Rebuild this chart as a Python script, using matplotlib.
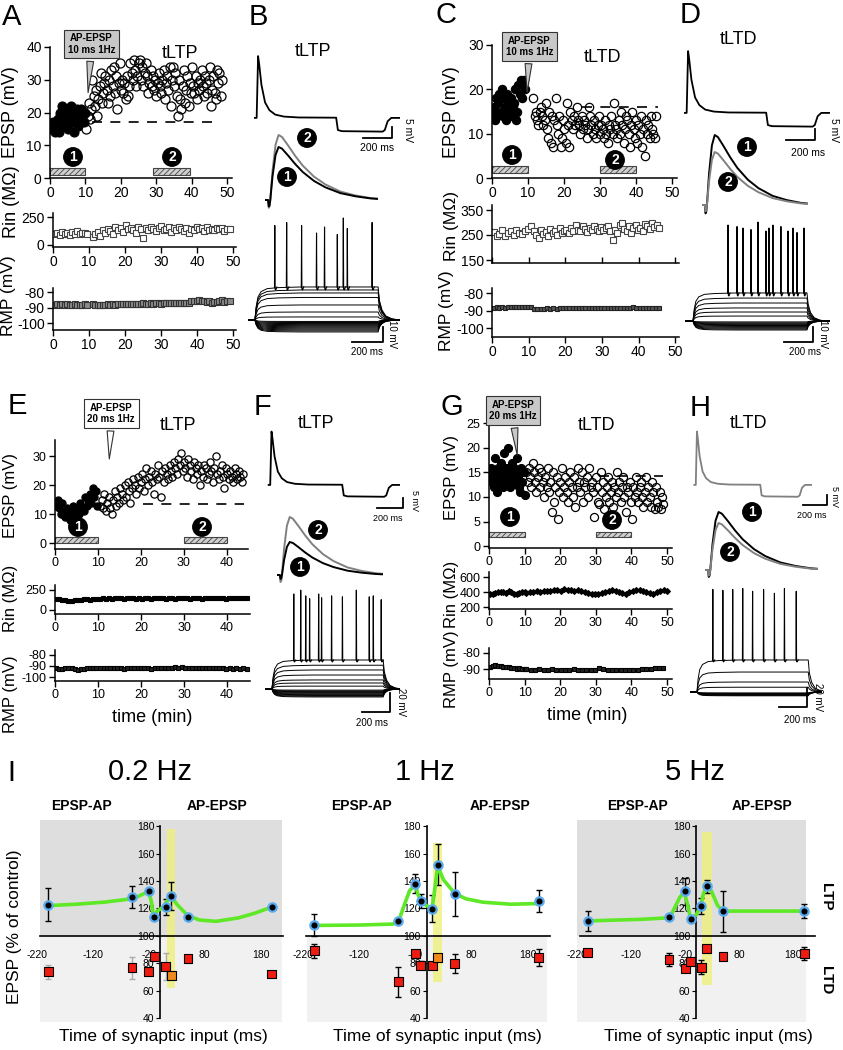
import numpy as np
import matplotlib.pyplot as plt
from matplotlib.patches import Rectangle

plt.rcParams['font.family'] = ['Liberation Sans', 'DejaVu Sans']
plt.rcParams['hatch.linewidth'] = 0.6
plt.rcParams['axes.unicode_minus'] = False

# ---------------- Data ----------------
# A (tLTP, AP-EPSP 10 ms 1 Hz)
a_pre = [16, 15, 17, 14, 16, 15, 18, 14, 20, 22, 17, 19, 21, 16, 18, 15, 20, 22, 17, 19,
         14, 18, 21, 16, 17, 19, 21, 18, 17, 20]
a_post = [15, 19, 23, 18, 21, 30, 25, 22, 27, 19, 24, 28, 32, 23, 26,
          29, 31, 27, 23, 30, 25, 33, 28, 34, 26, 31, 21, 29, 35, 27,
          30, 26, 29, 24, 31, 25, 28, 35, 32, 30, 36, 33, 28, 31, 35,
          36, 30, 34, 28, 32, 35, 31, 26, 29, 33, 28, 31, 27, 30, 25,
          29, 32, 28, 26, 30, 33, 24, 29, 31, 27, 34, 22, 30, 34, 28,
          32, 25, 19, 30, 24, 21, 28, 33, 23, 27, 31, 22, 29, 26, 34,
          28, 26, 31, 24, 29, 27, 30, 33, 28, 25, 31, 29, 26, 30, 34,
          22, 27, 31, 26, 24, 33, 29, 32, 25, 30]
a_rin_pre = [95, 110, 85, 120, 100, 105, 90, 115, 100, 125, 95, 110, 105, 100]
a_rin_post = [70, 95, 120, 80, 130, 110, 145, 125, 100, 160, 135, 150, 120, 175, 140, 155,
              130, 110, 160, 145, 60, 150, 135, 165, 140, 125, 155, 170, 130, 145, 160, 120,
              150, 135, 165, 140, 125, 155, 110, 145, 130, 160, 140, 150, 125, 165, 135, 145,
              130, 155, 140, 150, 125, 145, 140]
a_rmp_pre = [-88.5, -88, -88.5, -88, -88.3, -88, -88.6, -88.2, -88, -88.5, -88.1, -88.4, -88, -88.3]
a_rmp_post = [-88, -88.3, -88.2, -88.5, -88.1, -88.4, -88, -88.2, -87.9, -88.1, -88, -87.8, -88,
              -87.7, -87.9, -87.6, -87.8, -87.5, -87.7, -87.6, -87.4, -87.7, -87.5, -87.3, -87.6,
              -87.4, -87.2, -87.5, -87.3, -87.1, -87.4, -87.2, -87, -87.3, -87.1, -86.9, -87.2,
              -87, -86.8, -86, -85.5, -85.8, -85.3, -86, -85.6, -86.5, -85.9, -86.8, -86.2,
              -86.6, -86, -85.4, -86.3, -85.8, -86.1]

# C (tLTD, AP-EPSP 10 ms 1 Hz)
c_pre = [15, 16, 13, 18, 14, 17, 19, 15, 20, 14, 18, 16, 13, 19, 17, 15, 18, 14, 16, 17,
         20, 13, 15, 21, 19, 22, 18, 21, 22, 20]
c_post = [18, 14, 15, 13, 12, 15, 16, 14, 12, 13, 17, 11, 9, 15, 8, 14, 7, 13, 18, 12,
          10, 14, 7, 9, 13, 11, 8, 17, 12, 7, 15, 13, 11, 14, 12, 16, 13, 12, 10, 14,
          11, 13, 12, 9, 11, 16, 14, 12, 10, 13, 11, 9, 12, 14, 10, 12, 11, 9, 13, 10,
          8, 12, 11, 14, 10, 17, 12, 11, 9, 13, 10, 15, 12, 8, 11, 14, 13, 10, 7, 12,
          15, 11, 9, 13, 8, 12, 10, 14, 7, 11, 5, 13, 10, 12, 9, 14, 11, 10, 9, 14]
c_rin_pre = [262, 248, 255, 270, 245, 258, 265, 250, 272, 260, 255, 268, 275, 285]
c_rin_post = [265, 250, 240, 270, 255, 262, 248, 275, 260, 268, 252, 278, 258, 265, 270, 260,
              280, 268, 290, 272, 265, 285, 275, 262, 280, 270, 288, 275, 268, 282, 272, 278,
              285, 265, 230, 270, 258, 290, 300, 275, 268, 285, 260, 278, 290, 272, 280, 268,
              295, 285, 275, 300, 282, 290, 278]
c_rmp_pre = [-88.4, -88.2, -88.5, -88.1, -88.3, -88, -88.2, -87.9, -88.1, -87.8, -88, -87.7, -87.9, -88]
c_rmp_post = [-88.9, -89.1, -88.8, -89, -88.7, -88.9, -88.6, -88.8, -88.5, -88.7, -88.4, -88.6,
              -88.5, -88.3, -88.6, -88.4, -88.7, -88.5, -88.3, -88.6, -88.4, -88.7, -88.5,
              -88.6, -88.4, -88.7, -88.5, -88.3, -88.6, -88.4, -88.5, -88.2, -88.6, -88.4,
              -88.5, -88.3, -88.6, -88.4, -88.5, -88.3]

# E (tLTP, AP-EPSP 20 ms 1 Hz)
e_pre = [13, 15, 12, 10, 14, 11, 9, 12, 10, 8, 11, 13, 9, 11, 12, 10, 14, 12, 11, 16,
         13, 15, 17, 14, 19, 16, 18, 13]
e_post = [13, 15, 12, 17, 11, 14, 16, 12, 10, 15, 18, 13, 16, 14, 19, 17, 15, 20, 16, 21,
          18, 14, 19, 22, 20, 17, 23, 19, 21, 24, 18, 22, 26, 20, 23, 25, 21, 17, 24, 22,
          27, 23, 16, 25, 21, 26, 24, 22, 27, 25, 23, 28, 26, 24, 29, 27, 31, 25, 28, 26,
          23, 29, 27, 25, 22, 28, 26, 24, 27, 20, 25, 23, 27, 26, 22, 24, 28, 25, 21, 26,
          30, 24, 22, 25, 27, 23, 19, 26, 24, 22, 25, 23, 21, 26, 24, 22, 25, 23, 21, 24]
e_rin_pre = [135, 132, 128, 120, 110, 118, 125, 130, 128, 132, 135, 130, 133, 138]
e_rin_post = [142, 145, 140, 148, 143, 146, 150, 144, 141, 147, 145, 149, 143, 146, 140, 148,
              145, 142, 147, 144, 150, 146, 141, 145, 148, 143, 146, 149, 144, 147, 142, 146,
              150, 145, 143, 148, 146, 152, 144, 147, 145, 149, 143, 146, 150, 147, 144, 148,
              146, 149]
e_rmp_pre = [-92, -92.5, -93, -92, -91.5, -92, -93, -93.5, -93, -92.5, -92, -92, -91.5, -92]
e_rmp_post = [-92, -91.8, -92.2, -91.9, -92.1, -91.7, -92, -92.3, -91.8, -92.1, -91.9, -92.2,
              -92, -91.8, -92.1, -92.3, -91.9, -92, -92.2, -91.8, -92, -91.6, -91.3, -91.5,
              -91.2, -91.6, -91.4, -91.8, -91.6, -92, -91.8, -92.1, -91.9, -92.2, -92, -91.8,
              -92.1, -92.3, -92, -92.4, -92.1, -92.5, -92.2, -92.6]

# G (tLTD, AP-EPSP 20 ms 1 Hz)
g_pre = [14, 16, 13, 15, 12, 18, 14, 11, 16, 13, 17, 15, 12, 19, 14, 16, 13, 20, 15, 12,
         17, 14, 16, 13, 15, 18, 14, 12, 11, 16, 13, 15, 10.5]
g_post = [15, 13, 16, 14, 12, 17, 15, 13, 11, 14, 16, 12, 15, 13, 10, 14, 12, 16, 11, 13,
          7, 15, 9, 12, 14, 5.5, 11, 13, 16, 10, 12, 14, 11, 9, 13, 15, 12, 10, 14, 8,
          12, 16, 13, 11, 15, 9, 13, 12, 14, 10, 16, 12, 13, 11, 6, 14, 12, 9, 8.5, 15,
          11, 13, 7.5, 10, 12, 14, 9, 11, 13, 8, 12, 10, 15, 11, 13, 9, 12, 14, 10, 7,
          12, 11, 13, 9, 5.5, 12, 10, 14, 11, 9, 12, 13, 10, 8, 11, 14, 9, 12, 10, 8,
          13, 11, 7.5, 12, 9, 8, 11, 7.5, 10, 8.5]
g_rin_pre = [380, 370, 390, 395, 405, 395, 385, 410, 400, 375, 370, 385, 395, 400]
g_rin_post = [385, 395, 400, 410, 405, 415, 420, 410, 425, 430, 420, 435, 425, 430, 420, 425,
              410, 400, 390, 380, 370, 375, 385, 400, 420, 425, 415, 400, 385, 380, 395, 410,
              425, 430, 420, 405, 390, 380, 395, 420, 430, 415]
g_rmp_pre = [-88.5, -88, -87.5, -88, -88.2, -88.6, -88.8, -89, -89.2, -89.5, -89.8, -89.6, -90, -90.2]
g_rmp_post = [-90, -90.3, -90.6, -90.2, -90.8, -90.4, -90.1, -90.5, -90.3, -90.7, -90.4, -90.2,
              -90.6, -90.3, -90.5, -90.8, -90.4, -89.3, -90.2, -90.5, -90.7, -90.4, -90.6,
              -90.8, -90.5, -90.3, -90.6, -90.2, -89.8, -90.1, -89.5, -89.2, -89.4]

# Example traces (ms, mV)
top_t = [0, 12, 22, 30, 45, 70, 100, 140, 200, 300, 560, 572, 600, 880, 895, 915, 940, 1000]
top_v = [0, 0, 28, 24, 15, 7, 3.5, 1.5, 0.6, 0.2, 0.1, -5.5, -6, -6.2, -5.5, -1.5, 0, 0]
epsp_t = [0, 8, 10, 12, 14, 20, 28, 36, 45, 60, 80, 100, 130, 160, 200, 240, 280, 300]
epsp_f = [0, 0, -0.12, -0.1, 0, 0.45, 0.85, 1.0, 0.97, 0.85, 0.68, 0.53, 0.36, 0.24, 0.13,
          0.07, 0.03, 0.02]
step_t = [-60, 0, 8, 20, 40, 80, 150, 300, 500, 800, 808, 825, 850, 890, 940, 1000]
step_f = [0, 0, 0.4, 0.7, 0.86, 0.95, 0.98, 1.0, 1.0, 1.0, 0.6, 0.3, 0.12, 0.03, 0, 0]

b_amp = {'1': 5.3, '2': 6.5}
d_amp = {'1': 7.0, '2': 5.3}
f_amp = {'1': 3.3, '2': 5.8}
h_amp = {'1': 5.8, '2': 4.7}

b_levels = [-8, -7.3, -6.6, -5.9, -5.2, -4.5, -3.8, -3.1, -2.4, -1.7, -1, 2, 5.3, 10, 15, 18, 20, 22]
b_spk_t = [129, 206, 303, 400, 452, 535, 574, 600, 761]
b_spk_v = [63, 65, 63, 58, 62, 57, 68, 61, 65]
d_levels = [-6, -5.4, -4.8, -4.2, -3.6, -3, -2.4, -1.8, -1.2, -0.6, 3.3, 6, 8.7, 12, 15.3, 18.7]
d_spk_t = [246, 309, 351, 407, 456, 512, 533, 561, 617, 667, 702, 730, 779]
d_spk_v = [64, 63, 62, 61, 66, 60, 62, 64, 63, 60, 62, 59, 62]
f_levels = [-8.4, -7.6, -6.8, -6, -5.2, -4.4, -3.6, -2.8, -2, -1.2, 3, 6.3, 9.5, 14.7, 20, 25, 30.5]
f_spk_t = [157, 207, 243, 271, 336, 357, 429, 507, 607, 700, 729, 786]
f_spk_v = [100, 104, 98, 95, 100, 96, 98, 97, 104, 97, 98, 94]
h_levels = [-4, -3.5, -3, -2.5, -2, -1.5, -1, 5, 10.5, 21, 33.7]
h_spk_t = [114, 186, 257, 329, 400, 479, 557, 629, 714]
h_spk_v = [108, 107, 108, 109, 106, 108, 104, 109, 106]

# I: STDP curves
dt = [-200, -50, -20, -10, 10, 20, 50, 200]
ltp_02 = [122.5, 128.5, 133, 114, 121, 129, 114, 121]
ltp_02_err = [12, 8, 0, 0, 6, 10, 0, 0]
ltd_02 = [73.7, 76.7, 74, 85, 77.5, 71, 83.5, 72]
ltd_02_err = [5, 8, 0, 0, 10, 0, 0, 0]
fit_t_02 = [-200, -150, -100, -60, -40, -25, -20, -15, -12, -5, 6, 12, 20, 30, 49, 70, 100, 140, 170, 200]
fit_v_02 = [122, 123, 124.5, 126.5, 128.5, 131.5, 132.5, 124, 114, 118, 121, 125, 129, 123, 115,
            111.5, 110.5, 113, 116.5, 121]
ltp_1 = [107.7, 111, 138, 125.5, 119.7, 151.8, 130.6, 125.5]
ltp_1_err = [8, 0, 7, 5, 10, 15, 16, 8]
ltd_1 = [89, 66.5, 87, 78.5, 78, 84, 79.7, 84]
ltd_1_err = [5, 11, 0, 3, 0, 0, 7, 6]
fit_t_1 = [-200, -120, -60, -50, -40, -30, -20, -15, -10, 0, 10, 15, 20, 30, 50, 70, 100, 150, 200]
fit_v_1 = [107.5, 107.8, 108.5, 110, 122, 133, 137, 130, 125, 122, 120, 135, 151, 141, 131, 127,
           124.5, 123, 123.5]
ltp_5 = [110.8, 113.7, 132.5, 112, 121.7, 136, 118, 118]
ltp_5_err = [7, 0, 10, 0, 6, 5, 15, 5]
ltd_5 = [87.7, 82.7, 76, 81, 77, 90.6, 85, 87]
ltd_5_err = [0, 5, 0, 0, 5, 0, 0, 5]
fit_t_5 = [-200, -100, -55, -45, -30, -22, -15, -10, 0, 8, 14, 20, 28, 40, 50, 100, 200]
fit_v_5 = [110.8, 112, 113, 116, 128, 132, 122, 112, 115, 121, 131, 136, 133, 122, 118, 118, 118]
x_ticks_i = [-220, -120, -20, 80, 180]

# ---------------- Figure ----------------
W, H = 843, 1050
fig = plt.figure(figsize=(W / 100, H / 100), dpi=100)


def box(x0, y0, x1, y1):
    return fig.add_axes([x0 / W, 1 - y1 / H, (x1 - x0) / W, (y1 - y0) / H])


def put(x, y, s, **kw):
    fig.text(x / W, 1 - y / H, s, **kw)


def ylab(x, y, s, fs):
    put(x, y, s, fontsize=fs, ha='center', va='center', rotation=90)


def circled(x, y, s, size=10):
    put(x, y, s, ha='center', va='center', color='white', fontsize=size, fontweight='bold',
        bbox=dict(boxstyle='circle,pad=0.16', fc='black', ec='black'))


def style(ax, fs):
    for side in ('top', 'right'):
        ax.spines[side].set_visible(False)
    for side in ('left', 'bottom'):
        ax.spines[side].set_linewidth(1.1)
    ax.tick_params(labelsize=fs, length=4, width=1, pad=2)


def epsp_panel(bx, xmax, ylim, yticks, xticks, pre, post, t_pre, t_post, ms, fs,
               dash, bars, bar_y):
    ax = box(*bx)
    ax.plot(dash[:2], [dash[2]] * 2, color='black', lw=1.2, ls=(0, (6, 5)), zorder=1)
    for b0, b1 in bars:
        ax.add_patch(Rectangle((b0, bar_y[0]), b1 - b0, bar_y[1] - bar_y[0], fc='#d0d0d0',
                               ec='#444444', hatch='//////', lw=0.8, zorder=2))
    ax.plot(np.linspace(t_pre[0], t_pre[1], len(pre)), pre, 'o', ms=ms, mfc='black',
            mec='black', mew=0.8, zorder=3)
    ax.plot(np.linspace(t_post[0], t_post[1], len(post)), post, 'o', ms=ms, mfc='none',
            mec='black', mew=0.9, zorder=3)
    ax.set_xlim(0, xmax)
    ax.set_ylim(*ylim)
    ax.set_yticks(yticks)
    ax.set_xticks(xticks)
    style(ax, fs)
    return ax


def small_panel(bx, xmax, ylim, yticks, xticks, pre, post, t_pre, t_post, fs,
                mk, ms, mfc, mec, showx=True):
    ax = box(*bx)
    for vals, tt in ((pre, t_pre), (post, t_post)):
        ax.plot(np.linspace(tt[0], tt[1], len(vals)), vals, mk, ms=ms, mfc=mfc, mec=mec,
                mew=0.8)
    ax.set_xlim(0, xmax)
    ax.set_ylim(*ylim)
    ax.set_yticks(yticks)
    ax.set_xticks(xticks)
    style(ax, fs)
    if not showx:
        ax.tick_params(axis='x', labelbottom=False, direction='in')
    return ax


def callout(ax, text, tip, center, fc):
    ax.annotate(text, xy=tip, xytext=center, textcoords='data', ha='center', va='center',
                fontsize=7, fontweight='bold', annotation_clip=False,
                bbox=dict(boxstyle='square,pad=0.35', fc=fc, ec='#333333', lw=0.8),
                arrowprops=dict(arrowstyle='wedge,tail_width=0.7,shrink_factor=0.5',
                                fc=fc, ec='#333333', lw=0.8))


# ---- A ----
ax = epsp_panel((50, 47, 232, 178), 51.4, (0, 40), [0, 10, 20, 30, 40], [0, 10, 20, 30, 40, 50],
                a_pre, a_post, (0.3, 9.8), (10.3, 48.5), 6.5, 10,
                (12, 47, 17), [(0, 10), (29, 39.5)], (1, 3))
callout(ax, 'AP-EPSP\n10 ms 1Hz', (10.7, 25.2), (11.7, 40.9), '#c8c8c8')
circled(73, 157, '1')
circled(172, 157, '2')
put(180, 53, 'tLTP', fontsize=13, ha='center', va='center')
small_panel((53, 213, 236, 247), 50.8, (-18, 286), [0, 250], [0, 10, 20, 30, 40, 50],
            a_rin_pre, a_rin_post, (0.5, 9.5), (11, 49), 10, 's', 4, 'white', '#444444')
small_panel((53, 288, 236, 330), 50.8, (-104.5, -77.4), [-100, -90, -80], [0, 10, 20, 30, 40, 50],
            a_rmp_pre, a_rmp_post, (0.5, 9.5), (11, 49), 10, 's', 4, '#8a8a8a', '#333333')
ylab(11, 112, 'EPSP (mV)', 13)
ylab(11, 202, 'Rin (MΩ)', 13)
ylab(9, 296, 'RMP (mV)', 12.5)

# ---- C ----
ax = epsp_panel((492, 45, 677, 178), 51.4, (0, 30), [0, 10, 20, 30], [0, 10, 20, 30, 40, 50],
                c_pre, c_post, (0.2, 9.2), (11.5, 45.5), 6, 10,
                (25, 46, 16), [(0, 10), (30, 40)], (1.2, 2.7))
callout(ax, 'AP-EPSP\n10 ms 1Hz', (9.7, 18.7), (10.4, 29.7), '#c8c8c8')
circled(512, 155, '1')
circled(615, 160, '2')
put(602, 58, 'tLTD', fontsize=13, ha='center', va='center')
small_panel((492, 205, 679, 263), 51, (138, 370), [150, 250, 350], [0, 10, 20, 30, 40, 50],
            c_rin_pre, c_rin_post, (0.5, 10.5), (11.5, 45.5), 10, 's', 4, 'white', '#444444',
            showx=False)
small_panel((492, 288, 679, 337), 51, (-105, -77.1), [-100, -90, -80], [0, 10, 20, 30, 40, 50],
            c_rmp_pre, c_rmp_post, (0.5, 10.5), (11.5, 45.5), 10, 's', 3.5, '#555555', '#222222')
ylab(451, 112, 'EPSP (mV)', 13)
ylab(451, 226, 'Rin (MΩ)', 12.5)
ylab(447, 311, 'RMP (mV)', 12.5)

# ---- E ----
ax = epsp_panel((55, 440, 248, 549), 44.9, (-2, 35.6), [0, 10, 20, 30], [0, 10, 20, 30, 40],
                e_pre, e_post, (0.3, 9.8), (10.5, 43.8), 5.2, 9,
                (20.5, 44, 13.5), [(0, 10), (30, 40)], (0, 2))
callout(ax, 'AP-EPSP\n20 ms 1Hz', (12.6, 28.1), (13.1, 44.7), 'white')
circled(78, 527, '1')
circled(202, 527, '2')
put(178, 425, 'tLTP', fontsize=13, ha='center', va='center')
small_panel((55, 585, 250, 614), 45.3, (-50, 312), [0, 250], [0, 10, 20, 30, 40],
            e_rin_pre, e_rin_post, (0.3, 9.5), (10.5, 44.5), 9, 's', 2.5, 'black', 'black')
small_panel((55, 650, 250, 681), 45.3, (-103.6, -75.5), [-100, -90, -80], [0, 10, 20, 30, 40],
            e_rmp_pre, e_rmp_post, (0.3, 9.5), (10.5, 44.5), 9, 's', 2.5, '#222222', 'black')
ylab(11, 495, 'EPSP (mV)', 12)
ylab(11, 598, 'Rin (MΩ)', 12)
ylab(11, 694, 'RMP (mV)', 12)
put(152, 718, 'time (min)', fontsize=13, ha='center', va='center')

# ---- G ----
ax = epsp_panel((489, 420, 672, 548), 51.4, (-0.4, 25.7), [0, 5, 10, 15, 20, 25],
                [0, 10, 20, 30, 40, 50], g_pre, g_post, (0.2, 10), (10.5, 49), 5.8, 9,
                (31, 49, 14.3), [(0, 10), (30, 40)], (1.8, 2.9))
callout(ax, 'AP-EPSP\n20 ms 1Hz', (8, 18), (6.7, 27.6), '#c8c8c8')
circled(510, 517, '1')
circled(612, 520, '2')
put(597, 425, 'tLTD', fontsize=13, ha='center', va='center')
small_panel((489, 572, 672, 609), 51.4, (175, 667), [200, 400, 600], [0, 10, 20, 30, 40, 50],
            g_rin_pre, g_rin_post, (0.3, 10), (10.5, 50), 9, 'D', 3, 'black', 'black')
small_panel((489, 648, 672, 679), 51.4, (-96.2, -76.9), [-90, -80], [0, 10, 20, 30, 40, 50],
            g_rmp_pre, g_rmp_post, (0.3, 10), (10.5, 49), 9, 's', 2.5, '#222222', 'black')
ylab(451, 478, 'EPSP (mV)', 12)
ylab(451, 594, 'Rin (MΩ)', 12)
ylab(451, 669, 'RMP (mV)', 12)
put(587, 715, 'time (min)', fontsize=13, ha='center', va='center')


# ---- Example traces ----
def top_trace(bx, col, bar_t, bar_v, ms_pos, mv_pos, fs):
    ax = box(*bx)
    ax.plot(top_t, top_v, color=col, lw=1.3)
    ax.plot([bar_t - 200, bar_t, bar_t], [bar_v, bar_v, bar_v + 5], color='black', lw=1.3,
            clip_on=False)
    ax.set_xlim(-20, 1000)
    ax.set_ylim(-10, 33)
    ax.axis('off')
    put(*ms_pos, '200 ms', fontsize=fs, ha='center', va='center')
    put(*mv_pos, '5 mV', fontsize=fs, ha='center', va='center', rotation=-90)


def epsp_trace(bx, amps, first):
    ax = box(*bx)
    order = ['2', '1'] if first == '1' else ['1', '2']
    for k in order:
        col = 'black' if k == '1' else '#808080'
        ax.plot(epsp_t, np.array(epsp_f) * amps[k], color=col, lw=1.4)
    ax.set_xlim(0, 300)
    ax.set_ylim(-1.5, 8)
    ax.axis('off')


def step_trace(bx, xlim, ylim, levels, spk_t, spk_v, bar_t, bar_v, bar_mv, ms_pos, mv_pos):
    ax = box(*bx)
    for lv in levels:
        ax.plot(step_t, np.array(step_f) * lv, color='black', lw=0.7)
    top = levels[-1]
    for s, p in zip(spk_t, spk_v):
        ax.plot([s - 2, s, s + 2, s + 6, s + 14], [top, p, top - 1.5, top - 2, top],
                color='black', lw=0.8)
    ax.plot([bar_t - 200, bar_t, bar_t], [bar_v, bar_v, bar_v + bar_mv], color='black', lw=1.3,
            clip_on=False)
    ax.set_xlim(*xlim)
    ax.set_ylim(*ylim)
    ax.axis('off')
    put(*ms_pos, '200 ms', fontsize=7, ha='center', va='center')
    put(*mv_pos, f'{bar_mv} mV', fontsize=7, ha='center', va='center', rotation=-90)


# B
put(313, 52, 'tLTP', fontsize=13, ha='center', va='center')
top_trace((252, 45, 400, 140), 'black', 945, -9.1, (377, 148), (408, 130), 7.5)
epsp_trace((265, 120, 378, 215), b_amp, '1')
circled(307, 138, '2')
circled(287, 177, '1')
step_trace((248, 215, 400, 345), (-45, 942), (-16.7, 70), b_levels, b_spk_t, b_spk_v,
           831, -14.7, 10, (367, 352), (392, 334))

# D
put(738, 40, 'tLTD', fontsize=13, ha='center', va='center')
top_trace((682, 40, 830, 135), 'black', 900, -12.3, (808, 153), (834, 130), 7.5)
epsp_trace((702, 125, 808, 220), d_amp, '2')
circled(747, 147, '1')
circled(728, 182, '2')
step_trace((685, 215, 830, 345), (-56, 961.5), (-16, 70.7), d_levels, d_spk_t, d_spk_v,
           842, -14, 10, (805, 352), (823, 334))

# F
put(316, 424, 'tLTP', fontsize=13, ha='center', va='center')
top_trace((266, 422, 400, 504), 'black', 1022, -12.1, (388, 518), (414, 500), 6.5)
epsp_trace((277, 495, 383, 590), f_amp, '1')
circled(318, 530, '2')
circled(300, 567, '1')
step_trace((265, 580, 400, 700), (-50, 921), (-11.6, 114.7), f_levels, f_spk_t, f_spk_v,
           849, -24.2, 20, (372, 723), (401, 702))

# H
put(749, 424, 'tLTD', fontsize=13, ha='center', va='center')
top_trace((692, 422, 812, 504), '#808080', 1125, -10.5, (812, 515), (834, 497), 6.5)
epsp_trace((705, 490, 818, 585), h_amp, '2')
circled(752, 512, '1')
circled(730, 552, '2')
step_trace((690, 580, 822, 705), (-50, 899), (-13.7, 117.9), h_levels, h_spk_t, h_spk_v,
           791, -15.8, 20, (800, 720), (818, 697))


# ---- I ----
def stdp(bx, ltp, ltp_err, ltd, ltd_err, ltd_cols, ltd_ecol, fit_t, fit_v, band, top_bg, bot_bg):
    ax = box(*bx)
    ax.set_xlim(-220, 220)
    ax.set_ylim(37, 184.5)
    if top_bg:
        ax.add_patch(Rectangle((top_bg[0], 100), top_bg[1] - top_bg[0], 84.5, fc='#dedede',
                               ec='none', zorder=0))
    ax.add_patch(Rectangle((bot_bg[0], 37), bot_bg[1] - bot_bg[0], 63, fc='#f1f1f1', ec='none',
                           zorder=0))
    ax.add_patch(Rectangle((band[0], band[2]), band[1] - band[0], band[3] - band[2],
                           fc='#eef07a', alpha=0.8, ec='none', zorder=1))
    ax.errorbar(dt, ltp, yerr=ltp_err, fmt='none', ecolor='black', elinewidth=1, capsize=2,
                zorder=2)
    ax.errorbar(dt, ltd, yerr=ltd_err, fmt='none', ecolor=ltd_ecol, elinewidth=1, capsize=2,
                zorder=2)
    ax.plot(fit_t, fit_v, color='#5ee826', lw=2.6, zorder=3, solid_capstyle='round')
    ax.plot(dt, ltp, 'o', ms=6, mfc='black', mec='#5aaaee', mew=1.6, zorder=4)
    ax.scatter(dt, ltd, marker='s', s=40, c=ltd_cols, edgecolors='black', linewidths=0.8,
               zorder=4)
    ax.spines['left'].set_position(('data', 0))
    ax.spines['bottom'].set_position(('data', 100))
    ax.spines['left'].set_bounds(40, 180)
    ax.spines['bottom'].set_bounds(-215, 220)
    for side in ('top', 'right'):
        ax.spines[side].set_visible(False)
    for side in ('left', 'bottom'):
        ax.spines[side].set_linewidth(1.2)
        ax.spines[side].set_zorder(2.5)
    ax.set_yticks(range(40, 181, 20))
    ax.set_xticks(x_ticks_i)
    ax.tick_params(axis='y', labelsize=7.5, length=3, pad=1)
    ax.tick_params(axis='x', labelsize=7.5, length=0, pad=10)
    ax.patch.set_alpha(0)
    return ax


red, orange = '#ee1c10', '#f08a1c'
stdp((37, 820, 283, 1022), ltp_02, ltp_02_err, ltd_02, ltd_02_err,
     [red, red, red, red, red, orange, red, red], '#aaaaaa', fit_t_02, fit_v_02,
     (12, 27, 62, 178), (-215, 219), (-215, 219))
stdp((303, 820, 550, 1022), ltp_1, ltp_1_err, ltd_1, ltd_1_err,
     [red, red, red, red, red, orange, red, red], 'black', fit_t_1, fit_v_1,
     (12, 28, 66, 168), None, (-213, 215))
stdp((577, 820, 815, 1022), ltp_5, ltp_5_err, ltd_5, ltd_5_err,
     [red] * 8, 'black', fit_t_5, fit_v_5,
     (12, 29, 64, 176), (-220, 203), (-220, 203))

for cx, title, l1, l2 in ((150, '0.2 Hz', 81, 217), (425, '1 Hz', 362, 500), (695, '5 Hz', 637, 762)):
    put(cx, 772, title, fontsize=21, ha='center', va='center')
    put(l1, 806, 'EPSP-AP', fontsize=10, fontweight='bold', ha='center', va='center')
    put(l2, 806, 'AP-EPSP', fontsize=10, fontweight='bold', ha='center', va='center')
for cx in (163, 437, 708):
    put(cx, 1037, 'Time of synaptic input (ms)', fontsize=12.5, ha='center', va='center')
put(15, 927, 'EPSP (% of control)', fontsize=12.5, ha='center', va='center', rotation=90)
put(826, 897, 'LTP', fontsize=11, fontweight='bold', ha='center', va='center', rotation=-90)
put(826, 980, 'LTD', fontsize=11, fontweight='bold', ha='center', va='center', rotation=-90)

# panel letters
for x, y, s in ((12, 17, 'A'), (258, 17, 'B'), (446, 15, 'C'), (690, 15, 'D'),
                (17, 406, 'E'), (263, 407, 'F'), (452, 407, 'G'), (700, 408, 'H'),
                (11, 773, 'I')):
    put(x, y, s, fontsize=21, ha='center', va='center')

fig.savefig('out.png', dpi=100)
